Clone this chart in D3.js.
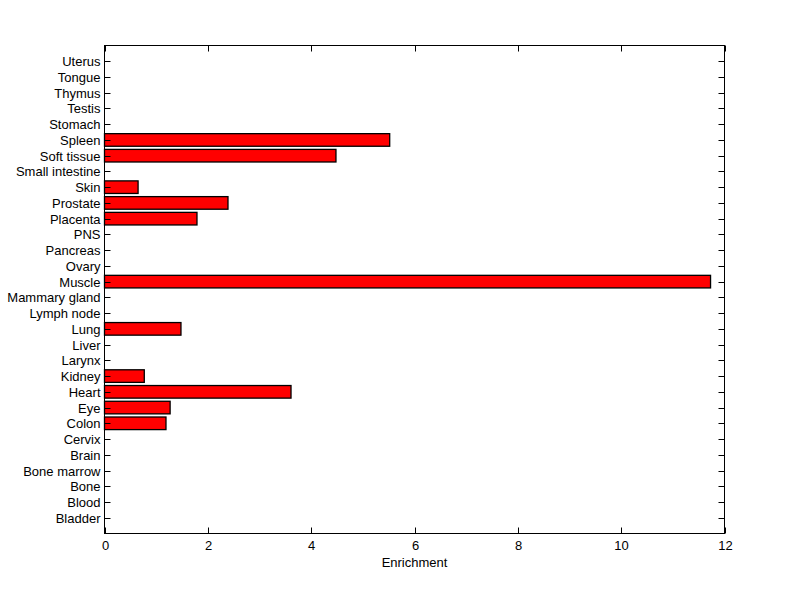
<!DOCTYPE html>
<html><head><meta charset="utf-8">
<script src="https://cdn.jsdelivr.net/npm/d3@7"></script>
<style>body{margin:0;background:#fff;} svg{display:block;} text{font-family:"Liberation Sans",Arial,sans-serif;font-size:13px;fill:#000;}</style>
</head><body>
<svg id="c" width="800" height="599"></svg>
<script>
const categories = ["Bladder","Blood","Bone","Bone marrow","Brain","Cervix","Colon","Eye","Heart","Kidney","Larynx","Liver","Lung","Lymph node","Mammary gland","Muscle","Ovary","Pancreas","PNS","Placenta","Prostate","Skin","Small intestine","Soft tissue","Spleen","Stomach","Testis","Thymus","Tongue","Uterus"];
const values = [0,0,0,0,0,0,1.19,1.27,3.61,0.77,0,0,1.48,0,0,11.73,0,0,0,1.79,2.39,0.65,0,4.48,5.52,0,0,0,0,0];
const xTicks = [0,2,4,6,8,10,12];

const svg = d3.select("#c");
const L=104.5, R=724.5, T=45.5, B=533.5;
const x = d3.scaleLinear().domain([0,12]).range([L,R]);
const y = d3.scaleLinear().domain([0,categories.length+1]).range([B,T]);
const step = y(0)-y(1);
const bw = step*0.8;

const data = categories.map((c,i)=>({c, v:values[i], pos:i+1}));

svg.append("g").selectAll("rect").data(data.filter(d=>d.v>0)).join("rect")
  .attr("x", x(0)).attr("y", d=>y(d.pos)-bw/2)
  .attr("width", d=>x(d.v)-x(0)).attr("height", bw)
  .attr("fill","#ff0000").attr("stroke","#000").attr("stroke-width",1.3);

// box
svg.append("rect").attr("x",L).attr("y",T).attr("width",R-L).attr("height",B-T)
  .attr("fill","none").attr("stroke","#000").attr("stroke-width",1);

const tl = 6;
const g = svg.append("g");
data.forEach(d=>{
  const yy = Math.round(y(d.pos))+0.5;
  g.append("line").attr("x1",L).attr("x2",L+tl).attr("y1",yy).attr("y2",yy).attr("stroke","#000");
  g.append("line").attr("x1",R).attr("x2",R-tl).attr("y1",yy).attr("y2",yy).attr("stroke","#000");
  g.append("text").attr("x",L-4).attr("y",yy-0.5).attr("dy","0.35em").attr("text-anchor","end").text(d.c);
});
xTicks.forEach(t=>{
  const xx = Math.round(x(t))+0.5;
  g.append("line").attr("x1",xx).attr("x2",xx).attr("y1",B).attr("y2",B-tl).attr("stroke","#000");
  g.append("line").attr("x1",xx).attr("x2",xx).attr("y1",T).attr("y2",T+tl).attr("stroke","#000");
  g.append("text").attr("x",xx).attr("y",545.5).attr("dy","0.35em").attr("text-anchor","middle").text(t);
});
svg.append("text").attr("x",(L+R)/2).attr("y",562.5).attr("dy","0.35em").attr("text-anchor","middle").text("Enrichment");
</script>
</body></html>
